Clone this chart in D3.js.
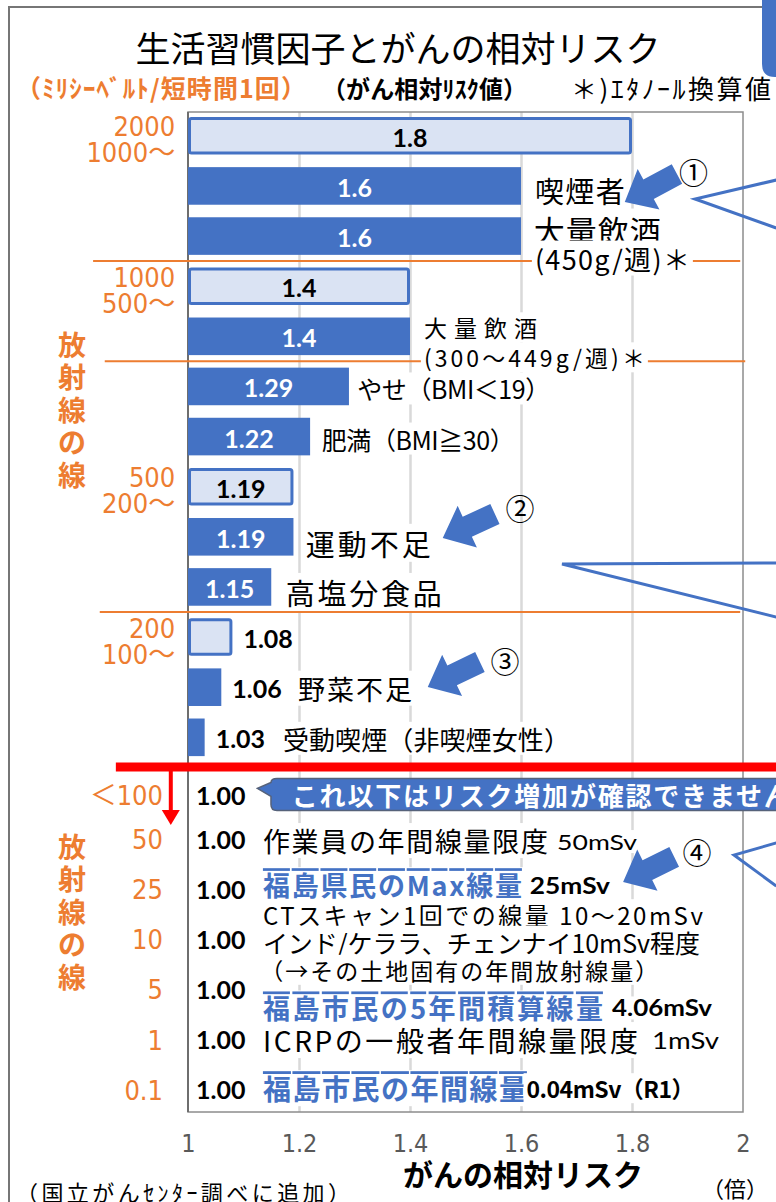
<!DOCTYPE html>
<html lang="ja">
<head>
<meta charset="utf-8">
<script src="https://cdn.jsdelivr.net/npm/d3@7"></script>
<style>
    html, body { margin: 0; padding: 0; background: #fff; }
    svg { display: block; font-family: "Noto Sans CJK JP", sans-serif; }
    .num { font-family: Lato, "Noto Sans CJK JP", sans-serif; font-weight: 700; }
    .narrow { font-family: "Liberation Sans Narrow", "DejaVu Sans Condensed", "Noto Sans CJK JP", sans-serif; }
</style>
</head>
<body>
<div id="chart"></div>
<script>
// relative cancer risk, one entry per row (top to bottom)
const risk = [1.8, 1.6, 1.6, 1.4, 1.4, 1.29, 1.22, 1.19, 1.19, 1.15, 1.08, 1.06, 1.03,
    1.00, 1.00, 1.00, 1.00, 1.00, 1.00, 1.00];
const riskLabels = ["1.8", "1.6", "1.6", "1.4", "1.4", "1.29", "1.22", "1.19", "1.19", "1.15", "1.08", "1.06", "1.03",
    "1.00", "1.00", "1.00", "1.00", "1.00", "1.00", "1.00"];
// rows that show a radiation dose band (light bars)
const doseBandRows = [0, 3, 7, 10];
const doseBandHigh = ["2000", "1000", "500", "200"];
const doseBandLow = ["1000～", "500～", "200～", "100～"];
// low dose rows
const doseRows = [13, 14, 15, 16, 17, 18, 19];
const doseValues = ["＜100", "50", "25", "10", "5", "1", "0.1"];
const xTicks = [1, 1.2, 1.4, 1.6, 1.8, 2];

const title = "生活習慣因子とがんの相対リスク";
const xTitle = "がんの相対リスク";

// text placed next to the rows: v = risk position, r = row, dy = px offset
const notes = [
    {t: "喫煙者", v: 1.625, r: 1, dy: 4, s: 29, w: 90},
    {t: "大量飲酒", v: 1.623, r: 2, dy: -7, s: 31, w: 127},
    {t: "(450g/週)＊", v: 1.625, r: 2, dy: 22, s: 27, w: 155},
    {t: "大量飲酒", v: 1.425, r: 4, dy: -9, s: 23, w: 113},
    {t: "(300～449g/週)＊", v: 1.425, r: 4, dy: 21, s: 23, w: 221},
    {t: "やせ（BMI＜19）", v: 1.305, r: 5, dy: 2, s: 25, w: 193},
    {t: "肥満（BMI≧30）", v: 1.241, r: 6, dy: 2, s: 25, w: 193},
    {t: "運動不足", v: 1.212, r: 8, dy: 6, s: 29, w: 125},
    {t: "高塩分食品", v: 1.176, r: 9, dy: 5, s: 29, w: 156},
    {t: "野菜不足", v: 1.198, r: 11, dy: 1, s: 27, w: 114},
    {t: "受動喫煙（非喫煙女性）", v: 1.171, r: 12, dy: 1, s: 26, w: 287},
    {t: "作業員の年間線量限度", v: 1.135, r: 14, dy: 3, s: 27, w: 285},
    {t: "50mSv", v: 1.665, r: 14, dy: 4, s: 22, w: 80, latin: true},
    {t: "福島県民のMax線量", v: 1.135, r: 15, dy: -3, s: 27, w: 259, link: true},
    {t: "25mSv", v: 1.616, r: 15, dy: -2, s: 22, w: 80, latin: true, bold: true},
    {t: "CTスキャン1回での線量 10～20mSv", v: 1.135, r: 15, dy: 27, s: 24, w: 440},
    {t: "インド/ケララ、チェンナイ10mSv程度", v: 1.135, r: 16, dy: 4, s: 25, w: 437},
    {t: "（→その土地固有の年間放射線量）", v: 1.13, r: 16, dy: 32, s: 23, w: 398},
    {t: "福島市民の5年間積算線量", v: 1.135, r: 17, dy: 20, s: 27, w: 340, link: true},
    {t: "4.06mSv", v: 1.764, r: 17, dy: 20, s: 22, w: 100, latin: true, bold: true},
    {t: "ICRPの一般者年間線量限度", v: 1.135, r: 18, dy: 2, s: 28, w: 375},
    {t: "1mSv", v: 1.836, r: 18, dy: 2, s: 23, w: 67, latin: true},
    {t: "福島市民の年間線量", v: 1.135, r: 19, dy: 0, s: 28, w: 264, link: true},
    {t: "0.04mSv（R1）", v: 1.61, r: 19, dy: 0, s: 23, w: 168, bold: true}
];

// block arrows and circled numbers
const arrows = [
    {from: [1.881, 0.762], to: [1.787, 1.321]},
    {from: [1.553, 7.545], to: [1.459, 8.024]},
    {from: [1.526, 10.498], to: [1.432, 10.997]},
    {from: [1.876, 14.387], to: [1.784, 14.886]}
];
const marks = [
    {t: "①", v: 1.911, r: 0.70},
    {t: "②", v: 1.598, r: 7.40},
    {t: "③", v: 1.571, r: 10.46},
    {t: "④", v: 1.917, r: 14.27}
];
// "<" shaped callout lines going off to the right
const wedges = [
    [[2.06, 0.882], [1.9135, 1.261], [2.06, 1.839]],
    [[2.06, 8.523], [1.6739, 8.543], [2.06, 9.6]],
    [[2.06, 14.108], [1.9838, 14.348], [2.06, 14.967]]
];

const width = 776, height = 1202;
const blue = "#4472c4", orange = "#ed7d31";

const x = d3.scaleLinear().domain([1, 2]).range([188, 743]);
const y = d3.scaleBand().domain(d3.range(risk.length)).range([112, 1112])
    .paddingInner(0.25).paddingOuter(0.1);
const rowY = (r) => y(0) + y.bandwidth() / 2 + r * y.step();
const P = (p) => [x(p[0]), rowY(p[1])];

const svg = d3.select("#chart").append("svg")
    .attr("width", width).attr("height", height)
    .attr("viewBox", [0, 0, width, height]);

// outer frame and the blue tab in the corner
svg.append("path").attr("d", "M9,1202V7H762").attr("fill", "none")
    .attr("stroke", "#767676").attr("stroke-width", 2);
svg.append("path").attr("d", "M762,0V64Q762,77 775,77H776V0Z").attr("fill", blue);

// header
svg.append("text").attr("x", 398).attr("y", 46).attr("text-anchor", "middle")
    .attr("dominant-baseline", "central").attr("font-size", 35).text(title);
svg.append("text").attr("x", 16).attr("y", 87).attr("dominant-baseline", "central")
    .attr("font-size", 25).attr("font-weight", 700).attr("fill", orange)
    .attr("textLength", 290).text("（ﾐﾘｼｰﾍﾞﾙﾄ/短時間1回）");
svg.append("text").attr("x", 322).attr("y", 87).attr("dominant-baseline", "central")
    .attr("font-size", 24).attr("font-weight", 700).attr("textLength", 205)
    .text("（がん相対ﾘｽｸ値）");
svg.append("text").attr("x", 571).attr("y", 87).attr("dominant-baseline", "central")
    .attr("font-size", 26).attr("textLength", 200).text("＊)ｴﾀﾉｰﾙ換算値");

// grid
svg.append("g")
    .attr("transform", `translate(0,${y.range()[1]})`)
    .call(d3.axisBottom(x).tickValues(xTicks.slice(1, -1))
        .tickSize(-(y.range()[1] - y.range()[0])).tickFormat(""))
    .call((g) => g.select(".domain").remove())
    .call((g) => g.selectAll("line").attr("stroke", "#d9d9d9").attr("stroke-width", 2.5));

svg.append("rect")
    .attr("x", x(1)).attr("y", y.range()[0])
    .attr("width", x(2) - x(1)).attr("height", y.range()[1] - y.range()[0])
    .attr("fill", "none").attr("stroke", "#8c8c8c").attr("stroke-width", 1.5);
svg.append("line")
    .attr("x1", x(1)).attr("x2", x(1)).attr("y1", y.range()[0]).attr("y2", y.range()[1])
    .attr("stroke", "#6e6e6e").attr("stroke-width", 2);

// x axis labels
svg.append("g")
    .attr("class", "narrow")
    .attr("transform", `translate(0,${y.range()[1]})`)
    .call(d3.axisBottom(x).tickValues(xTicks).tickSize(0).tickPadding(22).tickFormat(d3.format("")))
    .call((g) => g.select(".domain").remove())
    .call((g) => g.selectAll("text").attr("font-size", 25).attr("fill", "#595959")
        .attr("font-family", null));

svg.append("text").attr("x", 523).attr("y", 1173).attr("text-anchor", "middle")
    .attr("dominant-baseline", "central").attr("font-size", 30).attr("font-weight", 700)
    .text(xTitle);
svg.append("text").attr("x", 702).attr("y", 1187).attr("dominant-baseline", "central")
    .attr("font-size", 22).text("（倍）");
svg.append("text").attr("x", 16).attr("y", 1191).attr("dominant-baseline", "central")
    .attr("font-size", 22).attr("textLength", 334).text("（国立がんｾﾝﾀｰ調べに追加）");

// bars
const isBand = (i) => doseBandRows.includes(i);
svg.append("g").selectAll("rect")
    .data(risk)
    .join("rect")
    .attr("x", (d, i) => x(1) + (isBand(i) ? 1.5 : 0))
    .attr("y", (d, i) => y(i) + (isBand(i) ? 1.5 : 0))
    .attr("width", (d, i) => Math.max(0, x(d) - x(1) - (isBand(i) ? 3 : 0)))
    .attr("height", (d, i) => y.bandwidth() - (isBand(i) ? 3 : 0))
    .attr("rx", (d, i) => isBand(i) ? 2 : 0)
    .attr("fill", (d, i) => isBand(i) ? "#dae3f3" : blue)
    .attr("stroke", (d, i) => isBand(i) ? blue : "none")
    .attr("stroke-width", 3);

// value labels
svg.append("g").attr("class", "num").selectAll("text")
    .data(risk)
    .join("text")
    .attr("font-size", 25)
    .attr("dominant-baseline", "central")
    .attr("y", (d, i) => y(i) + y.bandwidth() / 2 + (i === 13 ? 8 : 1))
    .attr("x", (d) => {
        const w = x(d) - x(1);
        if (w > 60) return x(1) + w / 2;
        return w > 0 ? x(d) + 11 : x(1) + 8;
    })
    .attr("text-anchor", (d) => x(d) - x(1) > 60 ? "middle" : "start")
    .attr("fill", (d, i) => (x(d) - x(1) > 60 && !isBand(i)) ? "#fff" : "#000")
    .text((d, i) => riskLabels[i]);

// separators between dose bands
const seps = [[2.5, 0.829, 1.995], [4.5, 0.85, 2.004], [9.5, 0.841, 1.995]];
svg.append("g").selectAll("line")
    .data(seps)
    .join("line")
    .attr("x1", (d) => x(d[1])).attr("x2", (d) => x(d[2]))
    .attr("y1", (d) => rowY(d[0])).attr("y2", (d) => rowY(d[0]))
    .attr("stroke", orange).attr("stroke-width", 2);

// annotation text with white boxes behind
const noteLayer = svg.append("g");
notes.forEach((n) => {
    const g = noteLayer.append("g");
    const t = g.append("text")
        .attr("x", x(n.v)).attr("y", rowY(n.r) + n.dy)
        .attr("dominant-baseline", "central")
        .attr("font-size", n.s)
        .attr("textLength", n.w)
        .attr("lengthAdjust", n.latin ? "spacingAndGlyphs" : "spacing")
        .text(n.t);
    if (n.latin) t.attr("font-family", "Lato, 'Noto Sans CJK JP', sans-serif");
    if (n.bold || n.link) t.attr("font-weight", 700);
    if (n.link) t.attr("fill", blue).attr("text-decoration", "underline");
    const b = t.node().getBBox();
    g.insert("rect", "text").attr("x", b.x - 3).attr("y", b.y + 2)
        .attr("width", b.width + 6).attr("height", b.height - 4).attr("fill", "#fff");
});

// dose labels on the left
const axisText = svg.append("g").attr("class", "narrow").attr("fill", orange).attr("font-size", 27);
axisText.selectAll("text.hi")
    .data(doseBandRows)
    .join("text")
    .attr("x", x(0.977)).attr("y", (d) => rowY(d) - 9)
    .attr("text-anchor", "end").attr("dominant-baseline", "central")
    .text((d, i) => doseBandHigh[i]);
axisText.selectAll("text.lo")
    .data(doseBandRows)
    .join("text")
    .attr("x", x(0.977)).attr("y", (d) => rowY(d) + 17)
    .attr("text-anchor", "end").attr("dominant-baseline", "central")
    .text((d, i) => doseBandLow[i]);
axisText.selectAll("text.low")
    .data(doseRows)
    .join("text")
    .attr("x", x(0.955)).attr("y", (d, i) => rowY(d) + (i === 0 ? 8 : 2))
    .attr("text-anchor", "end").attr("dominant-baseline", "central")
    .text((d, i) => doseValues[i]);

// vertical "放射線の線"
[5.45, 15.46].forEach((r) => {
    const chars = "放射線の線".split("");
    svg.append("g").selectAll("text")
        .data(chars)
        .join("text")
        .attr("x", x(0.791)).attr("y", (d, i) => rowY(r) + (i - 2) * 32.5)
        .attr("text-anchor", "middle").attr("dominant-baseline", "central")
        .attr("font-size", 28).attr("font-weight", 700).attr("fill", orange)
        .text((d) => d);
});

// red threshold line with arrow
const redY = rowY(12.59);
svg.append("line").attr("x1", x(0.87)).attr("x2", x(2.1)).attr("y1", redY).attr("y2", redY)
    .attr("stroke", "#ff0000").attr("stroke-width", 9);
svg.append("line").attr("x1", x(0.969)).attr("x2", x(0.969))
    .attr("y1", redY).attr("y2", rowY(13.45))
    .attr("stroke", "#ff0000").attr("stroke-width", 4);
svg.append("path")
    .attr("d", `M${x(0.969) - 9},${rowY(13.45)}L${x(0.969) + 9},${rowY(13.45)}L${x(0.969)},${rowY(13.75)}Z`)
    .attr("fill", "#ff0000");

// callout bubble
const cy0 = rowY(13) - 9, cy1 = rowY(13) + 23, cx0 = x(1.1495);
svg.append("path")
    .attr("d", `M${cx0 + 6},${cy0}H${width + 20}V${cy1}H${cx0 + 6}Q${cx0},${cy1} ${cx0},${cy1 - 6}` +
        `V${cy0 + 18}L${x(1.125)},${cy0 + 10}L${cx0},${cy0 + 4}Q${cx0},${cy0} ${cx0 + 6},${cy0}Z`)
    .attr("fill", blue).attr("stroke", "#56627a").attr("stroke-width", 1.5);
svg.append("text").attr("x", x(1.187)).attr("y", (cy0 + cy1) / 2)
    .attr("dominant-baseline", "central").attr("font-size", 26).attr("font-weight", 700)
    .attr("fill", "#fff").attr("textLength", 498)
    .text("これ以下はリスク増加が確認できません");

// callout wedges
svg.append("g").selectAll("path")
    .data(wedges)
    .join("path")
    .attr("d", (d) => d3.line()(d.map(P)))
    .attr("fill", "none").attr("stroke", blue).attr("stroke-width", 3);

// block arrows
function blockArrow(a, b, sw, hw, hl) {
    const [x0, y0] = P(a), [x1, y1] = P(b);
    const L = Math.hypot(x1 - x0, y1 - y0);
    const ux = (x1 - x0) / L, uy = (y1 - y0) / L, nx = -uy, ny = ux;
    const bx = x1 - ux * hl, by = y1 - uy * hl;
    const pts = [
        [x0 + nx * sw / 2, y0 + ny * sw / 2],
        [bx + nx * sw / 2, by + ny * sw / 2],
        [bx + nx * hw / 2, by + ny * hw / 2],
        [x1, y1],
        [bx - nx * hw / 2, by - ny * hw / 2],
        [bx - nx * sw / 2, by - ny * sw / 2],
        [x0 - nx * sw / 2, y0 - ny * sw / 2]
    ];
    return "M" + pts.join("L") + "Z";
}
svg.append("g").selectAll("path")
    .data(arrows)
    .join("path")
    .attr("d", (d) => blockArrow(d.from, d.to, 22, 46, 27))
    .attr("fill", blue);

svg.append("g").selectAll("text")
    .data(marks)
    .join("text")
    .attr("x", (d) => x(d.v)).attr("y", (d) => rowY(d.r))
    .attr("text-anchor", "middle").attr("dominant-baseline", "central")
    .attr("font-size", 29)
    .text((d) => d.t);
</script>
</body>
</html>
